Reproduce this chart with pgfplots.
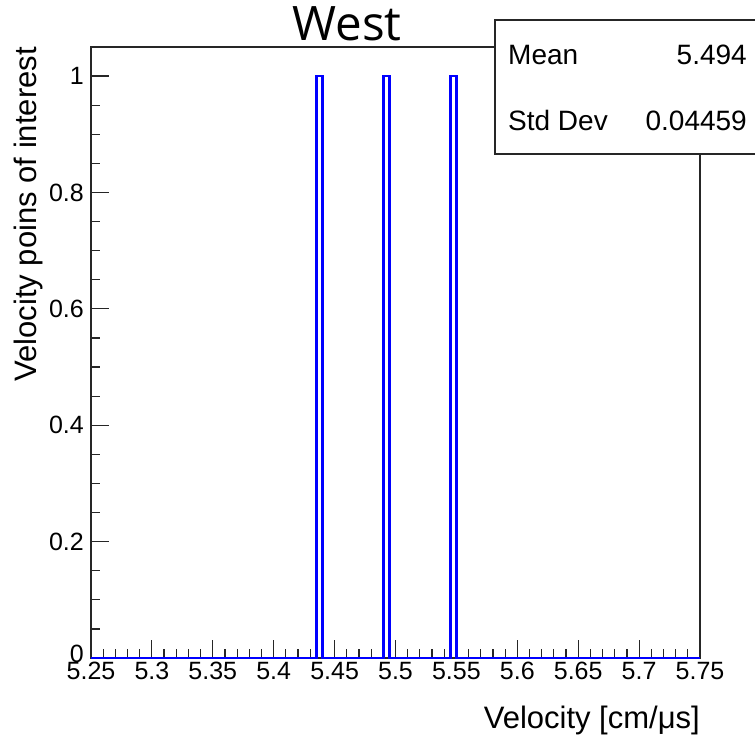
\documentclass[border=0pt]{standalone}
\usepackage{fontspec}
\setmainfont{Liberation Sans}
\newfontfamily\titlefont{Open Sans}
\usepackage{pgfplots}
\pgfplotsset{compat=1.18}
\begin{document}
\begin{tikzpicture}
\useasboundingbox (-91pt,-79pt) rectangle (664pt,658pt);
\begin{axis}[
  at={(0pt,0pt)}, anchor=south west,
  scale only axis, width=609pt, height=611pt,
  xmin=5.25, xmax=5.75, ymin=0, ymax=1.05,
  clip=false,
  axis line style={line width=1.3pt, black!85},
  tick pos=left, tick align=inside,
  major tick length=18pt, minor tick length=9pt,
  every tick/.style={line width=1.2pt, black!85},
  xtick={5.25,5.3,5.35,5.4,5.45,5.5,5.55,5.6,5.65,5.7,5.75},
  xticklabels={5.25,5.3,5.35,5.4,5.45,5.5,5.55,5.6,5.65,5.7,5.75},
  minor x tick num=4,
  ytick={0,0.2,0.4,0.6,0.8,1},
  yticklabels={\raisebox{8pt}{0},0.2,0.4,0.6,0.8,1},
  minor y tick num=3,
  xticklabel style={font=\fontsize{25}{28}\selectfont, anchor=north, inner sep=0pt, yshift=-4pt},
  yticklabel style={font=\fontsize{25}{28}\selectfont, anchor=east, inner sep=0pt, xshift=-7pt},
]
\addplot[const plot mark left, blue, line width=2.4pt] coordinates {
  (5.25,0) (5.435,1) (5.44,0) (5.49,1) (5.495,0) (5.545,1) (5.55,0) (5.75,0)
};
\end{axis}
% stats box
\fill[white] (404pt,504pt) rectangle (670pt,638pt);
\draw[line width=1.3pt, black!85] (670pt,638pt) -- (404pt,638pt) -- (404pt,504pt) -- (670pt,504pt);
\node[anchor=base west, inner sep=0pt, font=\fontsize{28}{32}\selectfont] at (417pt,593pt) {Mean};
\node[anchor=base east, inner sep=0pt, font=\fontsize{28}{32}\selectfont] at (656pt,593pt) {5.494};
\node[anchor=base west, inner sep=0pt, font=\fontsize{28}{32}\selectfont] at (417pt,527pt) {Std Dev};
\node[anchor=base east, inner sep=0pt, font=\fontsize{28}{32}\selectfont] at (656pt,527pt) {0.04459};
% title
\node[anchor=base, inner sep=0pt, font=\titlefont\fontsize{47.5}{52}\selectfont] at (256pt,617pt) {West};
% axis labels
\node[anchor=base east, inner sep=0pt, font=\fontsize{31}{34}\selectfont] at (609pt,-70pt) {Velocity [cm/μs]};
\node[anchor=base east, rotate=90, inner sep=0pt, font=\fontsize{31}{34}\selectfont] at (-54pt,611pt) {Velocity poins of interest};
\end{tikzpicture}
\end{document}
